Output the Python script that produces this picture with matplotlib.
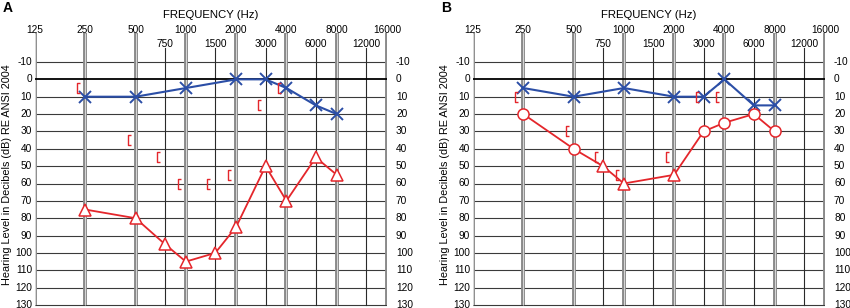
import numpy as np
import matplotlib
matplotlib.use('Agg')
import matplotlib.pyplot as plt
from matplotlib.path import Path

plt.rcParams['font.family'] = ['Liberation Sans', 'DejaVu Sans']

# frequencias do audiograma
octave_freqs = [125, 250, 500, 1000, 2000, 4000, 8000, 16000]
inter_freqs = [750, 1500, 3000, 6000, 12000]
db_levels = list(range(-10, 131, 10))

# painel A
a_left_f = [250, 500, 1000, 2000, 3000, 4000, 6000, 8000]
a_left_db = [10, 10, 5, 0, 0, 5, 15, 20]
a_right_f = [250, 500, 750, 1000, 1500, 2000, 3000, 4000, 6000, 8000]
a_right_db = [75, 80, 95, 105, 100, 85, 50, 70, 45, 55]
a_right_mk = ['^'] * 10
a_bone_f = [250, 500, 750, 1000, 1500, 2000, 3000, 4000]
a_bone_db = [5, 35, 45, 60, 60, 55, 15, 5]

# painel B
b_left_f = [250, 500, 1000, 2000, 3000, 4000, 6000, 8000]
b_left_db = [5, 10, 5, 10, 10, 0, 15, 15]
b_right_f = [250, 500, 750, 1000, 2000, 3000, 4000, 6000, 8000]
b_right_db = [20, 40, 50, 60, 55, 30, 25, 20, 30]
b_right_mk = ['o', 'o', '^', '^', '^', 'o', 'o', 'o', 'o']
b_bone_f = [250, 500, 750, 1000, 2000, 3000, 4000]
b_bone_db = [10, 30, 45, 55, 45, 10, 10]

BLUE = '#2b4ea6'
RED = '#e4262b'

W, H = 850, 308
px_per_db = 243 / 140.0
zero_px = 62 + 10 * px_per_db


def pix2db(p):
    return (p - zero_px) / px_per_db


# marcador de colchete (conducao ossea), deslocado para a esquerda
bracket = Path([(-5.0, 5.0), (-8.0, 5.0), (-8.0, -5.0), (-5.0, -5.0)],
               [Path.MOVETO, Path.LINETO, Path.LINETO, Path.LINETO])

fig = plt.figure(figsize=(W / 100, H / 100), dpi=100)


def audiogram(left_px, letter, left_f, left_db, right_f, right_db, right_mk,
              bone_f, bone_db):
    ax = fig.add_axes([left_px / W, 0, 352 / W, 1])
    x0, x1 = np.log2(125), np.log2(16000)
    ax.set_xlim(x0, x1)
    ax.set_ylim(pix2db(H), pix2db(0))
    ax.axis('off')

    # linhas horizontais
    for d in db_levels:
        if d == 0:
            ax.plot([x0, x1], [d, d], color='black', lw=1.3, zorder=2)
        else:
            ax.plot([x0, x1], [d, d], color='#3a3a3a', lw=0.8, zorder=1)

    # linhas verticais (oitavas duplas)
    for f in octave_freqs:
        x = np.log2(f)
        ax.plot([x, x], [pix2db(33), 130], color='#8a8a8a', lw=2.8,
                zorder=1, solid_capstyle='butt')
        ax.plot([x, x], [pix2db(33), 130], color='#d8d8d8', lw=0.7,
                zorder=1, solid_capstyle='butt')
        ax.text(x, pix2db(30), str(f), ha='center', va='center',
                fontsize=7.3, zorder=5)
    for f in inter_freqs:
        x = np.log2(f)
        ax.plot([x, x], [pix2db(48), 130], color='#2a2a2a', lw=0.8,
                zorder=1)
        ax.text(x, pix2db(44), str(f), ha='center', va='center',
                fontsize=7.3, zorder=5)

    for d in db_levels:
        ax.text(-3 / 352, d, str(d), transform=ax.get_yaxis_transform(),
                ha='right', va='center', fontsize=7.3)
        ax.text(1 + 9 / 352, d, str(d), transform=ax.get_yaxis_transform(),
                ha='left', va='center', fontsize=7.3)

    ax.text(0.5, pix2db(15), 'FREQUENCY (Hz)', transform=ax.get_yaxis_transform(),
            ha='center', va='center', fontsize=8.2)
    ax.text(-28 / 352, pix2db(175), 'Hearing Level in Decibels (dB) RE ANSI 2004',
            transform=ax.get_yaxis_transform(), rotation=90,
            ha='center', va='center', fontsize=7.8)
    fig.text((left_px - 27) / W, 1 - 8 / H, letter, fontsize=10,
             fontweight='bold', ha='center', va='center')

    # orelha esquerda (X azul)
    lx = np.log2(left_f)
    ax.plot(lx, left_db, color=BLUE, lw=1.5, zorder=4)
    ax.plot(lx, left_db, ls='none', marker='x', ms=8, mew=1.4,
            color=BLUE, zorder=4)

    # orelha direita (vermelho)
    rx = np.log2(right_f)
    ax.plot(rx, right_db, color=RED, lw=1.3, zorder=3)
    for x, d, m in zip(rx, right_db, right_mk):
        ax.plot(x, d, ls='none', marker=m, ms=8.5 if m == '^' else 8,
                mfc='white', mec=RED, mew=1.1, zorder=4)

    # conducao ossea
    ax.plot(np.log2(bone_f), bone_db, ls='none', marker=bracket, ms=12,
            mfc='none', mec=RED, mew=1.0, zorder=4)
    return ax


audiogram(35, 'A', a_left_f, a_left_db, a_right_f, a_right_db, a_right_mk,
          a_bone_f, a_bone_db)
audiogram(473, 'B', b_left_f, b_left_db, b_right_f, b_right_db, b_right_mk,
          b_bone_f, b_bone_db)

fig.savefig('out.png', dpi=100, facecolor='white')
